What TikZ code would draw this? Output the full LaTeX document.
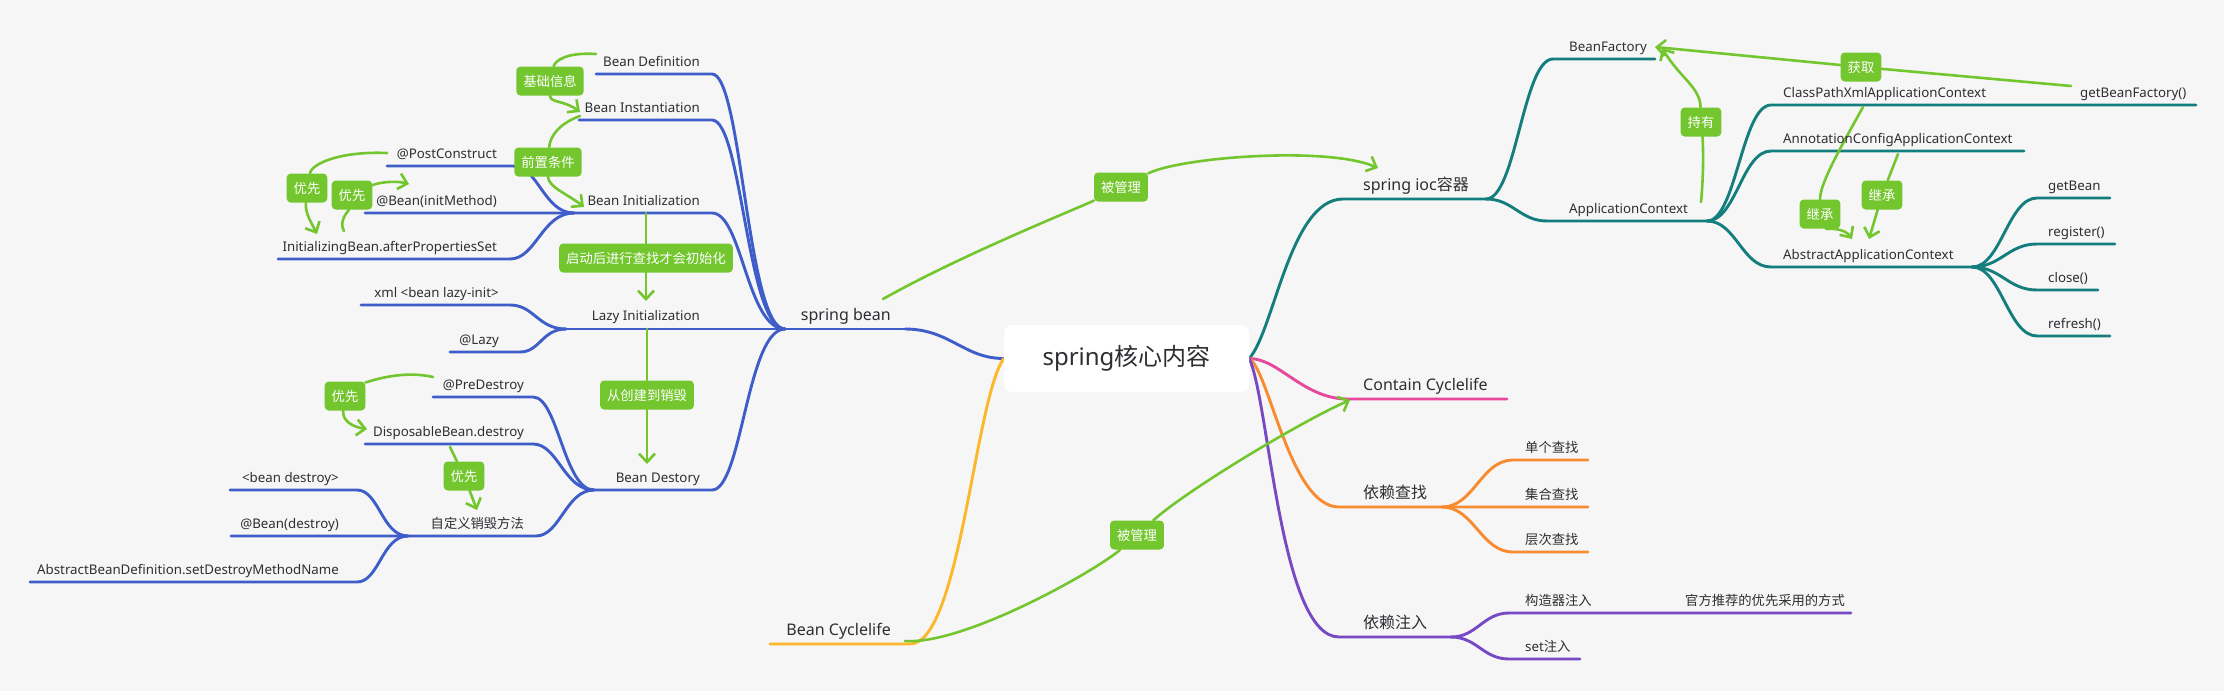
\documentclass[tikz,border=0pt]{standalone}
\usepackage{fontspec}
\setmainfont{Noto Sans}
\newfontfamily\cjk{Noto Sans CJK SC}
\usetikzlibrary{arrows.meta}
\pgfdeclarelayer{back}
\pgfdeclarelayer{lines}
\pgfsetlayers{back,lines,main}
\definecolor{cBg}{HTML}{F6F6F6}
\definecolor{cBlue}{HTML}{3E5DC8}
\definecolor{cTeal}{HTML}{147D7E}
\definecolor{cMag}{HTML}{E5489C}
\definecolor{cOrg}{HTML}{F88A2F}
\definecolor{cPur}{HTML}{7849C4}
\definecolor{cYel}{HTML}{FCB72D}
\definecolor{cGreen}{HTML}{73C62E}
\definecolor{txt}{HTML}{2E2E33}
\tikzset{
  tl/.style={font=\fontsize{13.3}{16}\selectfont, text=txt, inner sep=0pt, anchor=base east},
  tr/.style={font=\fontsize{13.3}{16}\selectfont, text=txt, inner sep=0pt, anchor=base west},
  tla/.style={font=\fontsize{16}{19}\selectfont, text=txt, inner sep=0pt, anchor=base east},
  tra/.style={font=\fontsize{16}{19}\selectfont, text=txt, inner sep=0pt, anchor=base west},
  rootbox/.style={fill=white, rounded corners=8pt, minimum width=245pt, minimum height=67pt, inner sep=0pt, font=\fontsize{24}{28}\selectfont, text=txt},
  brl/.style={line width=2.9pt, line cap=round},
  bb/.style={brl, draw=cBlue},
  tb/.style={brl, draw=cTeal},
  mb/.style={brl, draw=cMag},
  ob/.style={brl, draw=cOrg},
  pb/.style={brl, draw=cPur},
  yb/.style={brl, draw=cYel},
  rel/.style={draw=cGreen, line width=2.6pt, line cap=round},
  arr/.style={-{Straight Barb[length=8.5pt,width=16pt]}},
  lbl/.style={fill=cGreen, text=white, rounded corners=4pt, font=\cjk\fontsize{13.3}{16}\selectfont, inner xsep=7pt, inner ysep=0pt, minimum height=29pt}
}
\begin{document}
\begin{tikzpicture}[x=1pt,y=-1pt]
\useasboundingbox (0,0) rectangle (2224,691);
\begin{pgfonlayer}{back}
\fill[cBg] (0,0) rectangle (2224,691);
\end{pgfonlayer}

% root
\node[rootbox] (root) at (1126.5,358.5) {spring{\cjk 核心内容}};

% level 1
\node[tla] (sbean) at (891,320) {spring bean};
\node[tla] (bcycle) at (891,635) {Bean Cyclelife};
\node[tra] (ioc) at (1363,190) {spring ioc{\cjk 容器}};
\node[tra] (contain) at (1363,390) {Contain Cyclelife};
\node[tra] (lookup) at (1363,498) {\cjk 依赖查找};
\node[tra] (inject) at (1363,628) {\cjk 依赖注入};

% left nodes
\node[tl] (bdef) at (700,66) {Bean Definition};
\node[tl] (binst) at (700,112) {Bean Instantiation};
\node[tl] (binit) at (700,205) {Bean Initialization};
\node[tl] (blazy) at (700,320) {Lazy Initialization};
\node[tl] (bdest) at (700,482) {Bean Destory};
\node[tl] (postc) at (497,158) {@PostConstruct};
\node[tl] (initm) at (497,205) {@Bean(initMethod)};
\node[tl] (ibean) at (497,251) {InitializingBean.afterPropertiesSet};
\node[tl] (xmllazy) at (499,297) {xml <bean lazy-init>};
\node[tl] (lazyann) at (499,344) {@Lazy};
\node[tl] (predes) at (524,389) {@PreDestroy};
\node[tl] (dispo) at (524,436) {DisposableBean.destroy};
\node[tl] (custom) at (524,528) {\cjk 自定义销毁方法};
\node[tl] (beandes) at (339,482) {<bean destroy>};
\node[tl] (beanann) at (339,528) {@Bean(destroy)};
\node[tl] (abd) at (339,574) {AbstractBeanDefinition.setDestroyMethodName};

% right nodes
\node[tr] (bf) at (1569,51) {BeanFactory};
\node[tr] (ac) at (1569,213) {ApplicationContext};
\node[tr] (cp) at (1783,97) {ClassPathXmlApplicationContext};
\node[tr] (gbf) at (2080,97) {getBeanFactory()};
\node[tr] (an) at (1783,143) {AnnotationConfigApplicationContext};
\node[tr] (ab) at (1783,259) {AbstractApplicationContext};
\node[tr] (gb) at (2048,190) {getBean};
\node[tr] (rg) at (2048,236) {register()};
\node[tr] (cl) at (2048,282) {close()};
\node[tr] (rf) at (2048,328) {refresh()};
\node[tr] (l1) at (1525,452) {\cjk 单个查找};
\node[tr] (l2) at (1525,499) {\cjk 集合查找};
\node[tr] (l3) at (1525,544) {\cjk 层次查找};
\node[tr] (c1) at (1525,605) {\cjk 构造器注入};
\node[tr] (off) at (1685,605) {\cjk 官方推荐的优先采用的方式};
\node[tr] (setn) at (1525,651) {set{\cjk 注入}};

% green labels
\node[lbl] (g1) at (550,81) {基础信息};
\node[lbl] (g2) at (548,162) {前置条件};
\node[lbl] (g3) at (307,188) {优先};
\node[lbl] (g4) at (352,195) {优先};
\node[lbl] (g5) at (646,258) {启动后进行查找才会初始化};
\node[lbl] (g6) at (647,395) {从创建到销毁};
\node[lbl] (g7) at (345,396) {优先};
\node[lbl] (g8) at (464,476) {优先};
\node[lbl] (g9) at (1121,187) {被管理};
\node[lbl] (g10) at (1137,535) {被管理};
\node[lbl] (g11) at (1861,67) {获取};
\node[lbl] (g12) at (1701,122) {持有};
\node[lbl] (g13) at (1820,214) {继承};
\node[lbl] (g14) at (1882,195) {继承};

% coordinates
\coordinate (J0) at (785,329);
\coordinate (sbR) at (905,329);
\coordinate (bdefL) at (596,74); \coordinate (bdefR) at (712,74);
\coordinate (binstL) at (579,120); \coordinate (binstR) at (712,120);
\coordinate (J1) at (574,213); \coordinate (binitR) at (712,213);
\coordinate (J2) at (566,329);
\coordinate (J3) at (594,490); \coordinate (bdestR) at (712,490);
\coordinate (postcL) at (387,166); \coordinate (postcR) at (513,166);
\coordinate (initmL) at (365,213);
\coordinate (ibeanL) at (278,259); \coordinate (ibeanR) at (510,259);
\coordinate (xmlL) at (361,305); \coordinate (xmlR) at (510,305);
\coordinate (lazyL) at (450,352); \coordinate (lazyR) at (520,352);
\coordinate (predesL) at (433,397); \coordinate (predesR) at (533,397);
\coordinate (dispoL) at (365,444); \coordinate (dispoR) at (533,444);
\coordinate (J4) at (408,536); \coordinate (customR) at (536,536);
\coordinate (beandesL) at (230,490); \coordinate (beandesR) at (357,490);
\coordinate (beanannL) at (231,536);
\coordinate (abdL) at (30,582); \coordinate (abdR) at (357,582);
\coordinate (bcL) at (770,644); \coordinate (bcR) at (910,644);
\coordinate (iocL) at (1343,199); \coordinate (J5) at (1486,199);
\coordinate (bfL) at (1553,59); \coordinate (bfR) at (1655,59);
\coordinate (acL) at (1547,221); \coordinate (J6) at (1707,221);
\coordinate (cpL) at (1771,105); \coordinate (cpR) at (2196,105);
\coordinate (anL) at (1771,151); \coordinate (anR) at (2024,151);
\coordinate (abL) at (1771,267); \coordinate (J7) at (1972,267);
\coordinate (gbL) at (2037,198); \coordinate (gbR) at (2110,198);
\coordinate (rgL) at (2037,244); \coordinate (rgR) at (2115,244);
\coordinate (clL) at (2037,290); \coordinate (clR) at (2098,290);
\coordinate (rfL) at (2037,336); \coordinate (rfR) at (2110,336);
\coordinate (ctL) at (1348,399); \coordinate (ctR) at (1507,399);
\coordinate (lkL) at (1339,507); \coordinate (J8) at (1442,507);
\coordinate (l1L) at (1513,460); \coordinate (l1R) at (1588,460);
\coordinate (l2R) at (1588,507);
\coordinate (l3L) at (1513,552); \coordinate (l3R) at (1588,552);
\coordinate (ijL) at (1339,637); \coordinate (J9) at (1451,637);
\coordinate (c1L) at (1509,613); \coordinate (c1R) at (1851,613);
\coordinate (setL) at (1509,659); \coordinate (setR) at (1580,659);
% relation end points
\coordinate (a1) at (596,54); \coordinate (z1) at (580,112);
\coordinate (a2) at (580,116); \coordinate (z2) at (584,207);
\coordinate (a3) at (387,153); \coordinate (z3) at (317,234);
\coordinate (a4) at (344,231); \coordinate (z4) at (409,184);
\coordinate (a5) at (646,213); \coordinate (z5) at (646,301);
\coordinate (a6) at (647,329); \coordinate (z6) at (647,464);
\coordinate (a7) at (433,377); \coordinate (z7) at (367,429);
\coordinate (a8) at (450,447); \coordinate (z8) at (477,510);
\coordinate (a9) at (883,299); \coordinate (z9) at (1378,168);
\coordinate (a10) at (905,641); \coordinate (z10) at (1350,400);
\coordinate (a11) at (2071,86); \coordinate (z11) at (1655,47);
\coordinate (a12) at (1701,202); \coordinate (z12) at (1662,48);
\coordinate (a13) at (1863,107); \coordinate (z13) at (1852,239);
\coordinate (a14) at (1898,154); \coordinate (z14) at (1869,239);

\begin{pgfonlayer}{lines}
% blue
\draw[bb] (sbR) .. controls +(45,0) and +(-40,0) .. (root.west);
\draw[bb] (J2) -- (sbR);
\draw[bb] (bdefL) -- (bdefR) .. controls +(30,0) and +(-38,0) .. (J0);
\draw[bb] (binstL) -- (binstR) .. controls +(30,0) and +(-38,0) .. (J0);
\draw[bb] (initmL) -- (binitR) .. controls +(30,0) and +(-38,0) .. (J0);
\draw[bb] (J3) -- (bdestR) .. controls +(30,0) and +(-38,0) .. (J0);
\draw[bb] (postcL) -- (postcR) .. controls +(25,0) and +(-30,0) .. (J1);
\draw[bb] (ibeanL) -- (ibeanR) .. controls +(26,0) and +(-32,0) .. (J1);
\draw[bb] (xmlL) -- (xmlR) .. controls +(24,0) and +(-28,0) .. (J2);
\draw[bb] (lazyL) -- (lazyR) .. controls +(20,0) and +(-24,0) .. (J2);
\draw[bb] (predesL) -- (predesR) .. controls +(25,0) and +(-30,0) .. (J3);
\draw[bb] (dispoL) -- (dispoR) .. controls +(25,0) and +(-30,0) .. (J3);
\draw[bb] (beanannL) -- (customR) .. controls +(24,0) and +(-28,0) .. (J3);
\draw[bb] (beandesL) -- (beandesR) .. controls +(22,0) and +(-26,0) .. (J4);
\draw[bb] (abdL) -- (abdR) .. controls +(22,0) and +(-26,0) .. (J4);
% yellow
\draw[yb] (root.west) .. controls +(-29,40) and +(50,0) .. (bcR) -- (bcL);
% teal
\draw[tb] (root.east) .. controls +(25,-28) and +(-53,0) .. (iocL) -- (J5);
\draw[tb] (J5) .. controls +(30,0) and +(-30,0) .. (bfL) -- (bfR);
\draw[tb] (J5) .. controls +(27,0) and +(-27,0) .. (acL) -- (J6);
\draw[tb] (J6) .. controls +(29,0) and +(-29,0) .. (cpL) -- (cpR);
\draw[tb] (J6) .. controls +(29,0) and +(-29,0) .. (anL) -- (anR);
\draw[tb] (J6) .. controls +(29,0) and +(-29,0) .. (abL) -- (J7);
\draw[tb] (J7) .. controls +(29,0) and +(-29,0) .. (gbL) -- (gbR);
\draw[tb] (J7) .. controls +(29,0) and +(-29,0) .. (rgL) -- (rgR);
\draw[tb] (J7) .. controls +(29,0) and +(-29,0) .. (clL) -- (clR);
\draw[tb] (J7) .. controls +(29,0) and +(-29,0) .. (rfL) -- (rfR);
% magenta
\draw[mb] (root.east) .. controls +(30,0) and +(-45,0) .. (ctL) -- (ctR);
% orange
\draw[ob] (root.east) .. controls +(20,12) and +(-49,0) .. (lkL) -- (l2R);
\draw[ob] (J8) .. controls +(32,0) and +(-32,0) .. (l1L) -- (l1R);
\draw[ob] (J8) .. controls +(32,0) and +(-32,0) .. (l3L) -- (l3R);
% purple
\draw[pb] (root.east) .. controls +(20,42) and +(-59,0) .. (ijL) -- (J9);
\draw[pb] (J9) .. controls +(26,0) and +(-26,0) .. (c1L) -- (c1R);
\draw[pb] (J9) .. controls +(26,0) and +(-26,0) .. (setL) -- (setR);
% green relations
\draw[rel] (a1) .. controls +(-30,-2) and +(5,-20) .. (g1);
\draw[rel,arr] (g1) .. controls +(0,22) and +(-16,-12) .. (z1);
\draw[rel] (a2) .. controls +(-22,8) and +(2,-25) .. (g2);
\draw[rel,arr] (g2) .. controls +(0,25) and +(-15,-12) .. (z2);
\draw[rel] (a3) .. controls +(-45,-2) and +(5,-25) .. (g3);
\draw[rel,arr] (g3) .. controls +(-2,25) and +(-6,-12) .. (z3);
\draw[rel] (a4) .. controls +(-6,-10) and +(-3,15) .. (g4);
\draw[rel,arr] (g4) .. controls +(25,-12) and +(-15,-4) .. (z4);
\draw[rel] (a5) -- (g5);
\draw[rel,arr] (g5) -- (z5);
\draw[rel] (a6) -- (g6);
\draw[rel,arr] (g6) -- (z6);
\draw[rel] (a7) .. controls +(-35,-8) and +(18,-12) .. (g7);
\draw[rel,arr] (g7) .. controls +(-3,25) and +(-14,-2) .. (z7);
\draw[rel] (a8) -- (g8);
\draw[rel,arr] (g8) -- (z8);
\draw[rel] (a9) .. controls +(80,-45) and +(-40,20) .. (g9);
\draw[rel,arr] (g9) .. controls +(60,-30) and +(-50,-22) .. (z9);
\draw[rel] (a10) .. controls +(60,4) and +(-40,35) .. (g10);
\draw[rel,arr] (g10) .. controls +(50,-45) and +(-50,22) .. (z10);
\draw[rel] (a11) -- (g11);
\draw[rel,arr] (g11) -- (z11);
\draw[rel] (a12) .. controls +(3,-30) and +(2,20) .. (g12);
\draw[rel,arr] (g12) .. controls +(-1,-35) and +(18,30) .. (z12);
\draw[rel] (a13) .. controls +(-25,45) and +(0,-30) .. (g13);
\draw[rel,arr] (g13) .. controls +(6,15) and +(-8,-12) .. (z13);
\draw[rel] (a14) -- (g14);
\draw[rel,arr] (g14) -- (z14);
\end{pgfonlayer}
\end{tikzpicture}
\end{document}
